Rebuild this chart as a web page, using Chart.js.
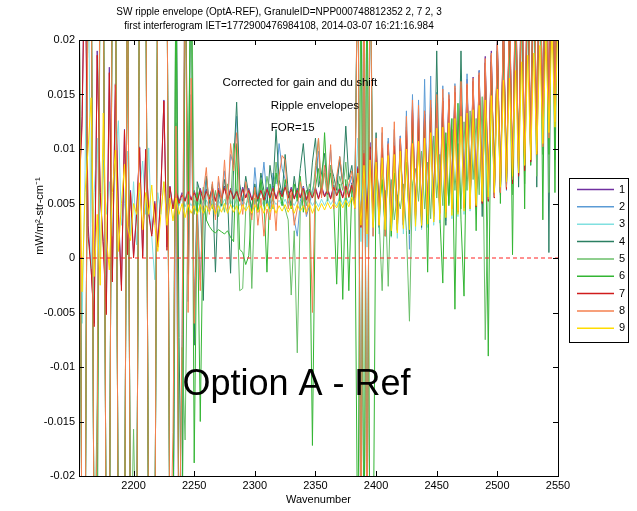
<!DOCTYPE html>
<html><head><meta charset="utf-8">
<script src="https://cdn.jsdelivr.net/npm/chart.js@4.4.1/dist/chart.umd.min.js"></script>
<style>html,body{margin:0;padding:0;background:#fff;}#wrap{width:637px;height:511px;}</style>
</head><body><div id="wrap"><canvas id="c" width="637" height="511"></canvas></div>
<script>
const wavenumber = [
2155,2157.5,2160,2162.5,2165,2167.5,2170,2172.5,2175,2177.5,
2180,2182.5,2185,2187.5,2190,2192.5,2195,2197.5,2200,2202.5,
2205,2207.5,2210,2212.5,2215,2217.5,2220,2222.5,2225,2227.5,
2230,2232.5,2235,2237.5,2240,2242.5,2245,2247.5,2250,2252.5,
2255,2257.5,2260,2262.5,2265,2267.5,2270,2272.5,2275,2277.5,
2280,2282.5,2285,2287.5,2290,2292.5,2295,2297.5,2300,2302.5,
2305,2307.5,2310,2312.5,2315,2317.5,2320,2322.5,2325,2327.5,
2330,2332.5,2335,2337.5,2340,2342.5,2345,2347.5,2350,2352.5,
2355,2357.5,2360,2362.5,2365,2367.5,2370,2372.5,2375,2377.5,
2380,2382.5,2385,2387.5,2390,2392.5,2395,2397.5,2400,2402.5,
2405,2407.5,2410,2412.5,2415,2417.5,2420,2422.5,2425,2427.5,
2430,2432.5,2435,2437.5,2440,2442.5,2445,2447.5,2450,2452.5,
2455,2457.5,2460,2462.5,2465,2467.5,2470,2472.5,2475,2477.5,
2480,2482.5,2485,2487.5,2490,2492.5,2495,2497.5,2500,2502.5,
2505,2507.5,2510,2512.5,2515,2517.5,2520,2522.5,2525,2527.5,
2530,2532.5,2535,2537.5,2540,2542.5,2545,2547.5,2550];

const s1 = [
.006,.013,.03,.003,-.001,-.006,.019,.006,.0015,-.005,
.0175,-.002,.016,.0045,-.0025,.0118,.0005,.0062,.0002,.0042,
.0102,.0002,.01,.0042,.0022,.0052,.0012,.0062,.0145,.001,
.0066,.0046,.0064,.0052,.006,.0053,.0063,.0054,.0062,.0053,
.0064,.0054,.0063,.0055,.0065,.0053,.0064,.0056,.0066,.0054,
.0064,.0055,.0063,.0053,.0065,.0056,.0064,.0054,.0062,.0055,
.0064,.0054,.0065,.0056,.0066,.0055,.0064,.0057,.0067,.0056,
.0065,.0055,.0064,.0056,.0066,.0054,.0063,.0056,.0065,.0055,
.0066,.0057,.0064,.0055,.0067,.0058,.0065,.0056,.0068,.0057,
.0069,.0056,.0084,.0029,.0099,.0036,.0106,.0039,.0101,.0041,
.0104,.0037,.0107,.0034,.0106,.0032,.0112,.0031,.012,.0035,
.0139,.0039,.0131,.0036,.0135,.004,.0141,.0041,.0148,.0042,
.0147,.0043,.0149,.0046,.0156,.0044,.016,.0047,.0164,.0049,
.0166,.0048,.0172,.0051,.0185,.0053,.019,.0056,.02,.0061,
.022,.0064,.0235,.0069,.0255,.0076,.0275,.0081,.0285,.0089,
.0305,.0096,.0315,.0106,.0325,.0121,.0335,.0131,.0345];

const s2 = [
.03,-.03,-.03,.03,.03,-.03,-.0175,.03,.03,-.03,
-.03,.03,.03,-.03,-.03,-.03,.03,-.03,-.03,-.03,
.03,.03,.03,-.03,-.03,-.03,.03,.03,.03,.03,
-.03,-.03,.0124,-.03,-.007,.03,-.004,.015,-.005,.005,
-.002,.005,.0075,.0045,.0065,.0038,.007,.0055,.008,.005,
.0095,.0085,.013,.0062,.0048,.0068,.0058,.004,.0083,.0052,
.006,.0088,.0055,.0045,.0078,.0068,.0105,.0082,.0072,.005,
.0058,.0035,.002,.0052,.0065,.0038,.0048,.0062,.0075,.0098,
.0058,.0082,.0065,.0099,.0055,.0072,.0088,.0068,.006,.0065,
.0075,.005,.03,-.03,.03,-.03,.03,.002,.0105,.0035,
.0115,.0025,.011,.0028,.0118,.003,.0112,.003,.0135,.0008,
.015,.0032,.0145,.0028,.0164,.0035,.0167,.0033,.0152,.0038,
.0158,.004,.0152,.0042,.016,.0041,.0165,.0044,.0169,.0046,
.0163,.0048,.0172,.005,.018,.0052,.0188,.0055,.0198,.0058,
.0218,.0062,.0238,.007,.0258,.0076,.0278,.0082,.0295,.0088,
.0305,.0095,.0315,.01,.0325,.0108,.0335,.012,.0345];

const s3 = [
.01,-.006,.008,.03,-.001,.006,.011,0,.009,.004,
.007,.002,.009,.0126,.003,.005,.0098,.002,.007,.0012,
.006,.0089,.004,.0101,.002,-.002,.006,.004,.007,.005,
.006,.0045,.0058,.0048,.0055,.0047,.0054,.0048,.0053,.0047,
.0054,.0048,.0053,.0047,.0054,.0049,.0053,.0047,.0054,.0048,
.0053,.0047,.0054,.0048,.0053,.0049,.0054,.0047,.0053,.0048,
.0054,.0047,.0053,.0048,.0054,.0049,.0053,.0048,.0054,.0047,
.0053,.0048,.0054,.0047,.0053,.0049,.0054,.0048,.0053,.0047,
.0054,.0048,.0055,.0049,.0054,.0048,.0056,.0049,.0057,.005,
.0058,.0049,.011,.0015,.02,.001,.01,.002,.0095,.0022,
.0097,.002,.0099,.0019,.0101,.0018,.0104,.0022,.0108,.0021,
.012,.0025,.0115,.0026,.0118,.0028,.0122,.003,.0126,.0032,
.0128,.0034,.013,.0036,.0135,.0038,.0138,.004,.0142,.0043,
.0146,.0045,.015,.0049,.0158,.0052,.0163,.0056,.0172,.006,
.0185,.0064,.02,.0069,.0215,.0073,.0225,.0079,.024,.0085,
.025,.009,.026,.0098,.027,.011,.028,.0115,.029];

const s4 = [
.03,-.03,-.03,.03,.03,-.03,-.018,.03,.03,-.03,
-.03,.03,.03,-.03,-.03,-.03,.03,-.03,-.03,-.03,
.03,.03,.03,-.03,-.03,-.03,.03,.03,.03,.03,
-.03,-.03,.03,-.0073,-.03,.03,-.0015,.03,-.008,.007,
.006,-.0039,.0075,.005,.0068,-.0013,.0062,.0048,.0072,.0055,
-.0014,.0085,.0143,.0068,.0052,.0075,.0058,.0045,.0068,.0052,
.0078,.0062,.0048,.0085,.0065,.0118,.0072,.0058,.0095,.0062,
.0048,.0075,.0055,.0082,.0105,.0068,.0052,.0088,.011,.0065,
.0078,.0096,.0058,.0085,.0075,.0062,.0093,.0068,.0121,.0072,
.0085,.0058,.03,-.03,.03,-.03,.03,.003,.0115,.0028,
.0095,.002,.0098,.0032,.0098,.0026,.0104,.0035,.0112,.0022,
.0128,.0035,.0122,.0028,.0126,.0041,.0132,.0038,.019,.0044,
.0138,.003,.0141,.0046,.0146,.0042,.019,.0048,.0152,.0045,
.0155,.005,.016,.0038,.017,.0054,.018,.0058,.019,.006,
.021,.0068,.0225,.0072,.024,.0065,.026,.0085,.027,.009,
.031,.0065,.032,.011,.033,.0005,.034,.009,.035];

const s5 = [
.03,-.03,-.03,.03,.03,-.03,-.0133,.03,.03,-.03,
-.03,.03,.03,-.03,-.03,-.03,.03,-.03,-.0157,-.03,
.03,.03,.03,-.03,-.03,-.03,.03,.03,.03,.03,
-.03,-.03,.03,-.03,-.0082,-.0167,.006,.03,.004,.0065,
.0042,.0065,.0035,.0058,.0045,.0062,.0038,.0055,.0042,.0068,
.0048,.0105,.0058,-.003,-.0028,.0045,.0062,-.0028,.0055,.0042,
.0068,.0048,.0075,.0058,.0045,.0088,.0062,.0052,.0045,.0035,
-.0034,.0025,-.0087,.0045,.0062,.0048,.0068,.0055,.0085,.011,
.0062,.0078,.0052,.0085,.0068,.0058,.0075,.0062,.0088,.0055,
.0068,.0052,.03,-.03,.03,-.03,.03,.0045,.0078,.0035,
-.003,.0062,-.0026,.0072,.0035,.0058,.0045,.0068,.0025,-.0058,
.0068,.0082,.0052,.0098,.0045,.0088,.0036,.0112,.0055,.0095,
.0048,.0105,.005,.0118,.0062,.0105,.0045,.0125,.0062,.0135,
.0072,.0128,.0058,.0148,-.0075,.0068,.0158,.0062,.0165,.0075,
.0182,.0085,.0192,.0058,.021,.0098,.022,.0068,.0235,.0105,
.025,.0075,.0265,.0095,.028,.006,.029,.0125,.03];

const s6 = [
.03,-.03,-.03,.03,.03,-.03,-.03,.03,.03,-.03,
-.03,.03,.03,-.03,-.03,-.03,.03,-.03,-.03,-.03,
.03,.03,.03,-.03,-.03,-.03,.03,.03,.03,.03,
-.03,-.03,.03,-.03,-.03,.03,.004,.03,-.0188,.006,
-.015,.0048,.0035,.0029,.0025,.0023,.0026,.0024,.0022,.0025,
.0019,.0015,.0105,.0008,.0005,-.0006,.0002,.0048,.0065,.0042,
.0072,.0055,-.0013,.0068,.0052,.0078,.0062,.0048,.0072,.0058,
.0045,.0068,.0052,.0075,.0042,.0062,.0055,-.0172,.0065,.0082,
.0058,.0115,.0062,.0078,.0052,-.0024,.0068,-.0038,.0072,-.003,
.0065,.0048,-.03,.03,-.03,.03,-.03,-.03,.0095,.004,
.0072,.0025,.0092,.002,.0078,.004,.0098,.0045,.0088,.0035,
.0122,.0042,.0105,.0035,.0125,-.0013,.0135,.0045,.0112,.004,
-.0023,.0115,.0048,.0128,-.0047,.0142,.0035,-.0035,.0135,.007,
.0148,.0025,.0158,.0055,.0145,-.009,.0175,.0075,.019,.005,
.021,.0065,.023,.0003,.024,.009,.026,.0045,.028,.0085,
.029,.0105,.031,.0035,.03,.0095,.033,.006,.032];

const s7 = [
.006,.012,.03,.002,-.001,-.0063,.0186,.006,.001,-.0052,
.017,-.0022,.0159,.004,-.003,.0117,.0003,.006,0,.004,
.0101,0,.0099,.004,.002,.005,.001,.006,.0144,.0007,
.0065,.0045,.0062,.005,.0058,.0052,.0061,.0053,.006,.0052,
.0062,.0053,.0061,.0054,.0063,.0052,.0062,.0055,.0064,.0053,
.0062,.0054,.0061,.0052,.0063,.0055,.0062,.0053,.006,.0054,
.0062,.0053,.0063,.0055,.0064,.0054,.0062,.0056,.0065,.0055,
.0063,.0054,.0062,.0055,.0064,.0053,.0061,.0055,.0063,.0054,
.0064,.0056,.0062,.0054,.0065,.0057,.0063,.0055,.0066,.0056,
.0067,.0055,.0082,.0028,.0096,.0035,.0102,.0038,.0098,.004,
.0101,.0036,.0104,.0033,.0103,.0031,.0109,.003,.0117,.0034,
.0136,.0038,.0128,.0035,.0132,.0039,.0138,.004,.0142,.0041,
.0144,.0042,.0146,.0045,.0152,.0043,.0156,.0046,.0159,.0048,
.0162,.0047,.0168,.005,.0179,.0052,.0186,.0055,.0196,.006,
.0215,.0063,.023,.0068,.025,.0075,.027,.008,.028,.0088,
.03,.0095,.031,.0105,.032,.012,.033,.013,.034];

const s8 = [
.03,-.03,-.03,.03,.03,-.03,-.017,.03,.03,-.03,
-.03,.03,.03,-.03,-.03,-.03,.03,-.03,-.03,-.03,
.03,.03,.03,-.03,-.03,-.03,.03,.03,.03,.03,
-.03,-.016,.0121,-.03,-.0075,.03,-.005,.0165,-.006,.004,
-.003,.006,.0083,.004,.007,.0035,.0075,.005,.009,.0045,
.0105,.008,.0115,.006,.004,.007,.005,.0035,.0065,.003,
.0055,.002,.0045,.0035,.006,.0025,.0075,.0094,.009,.0045,
.006,.003,.0045,.007,.0055,.004,.006,-.005,.008,.011,
.0055,.0085,.006,.0104,.0045,.0075,.0093,.007,.0055,.0068,
.008,.0045,.03,-.03,.03,-.03,.03,.002,.011,.003,
.012,.002,.0105,.003,.0125,.0025,.011,.0035,.013,.003,
.0145,.0035,.014,.003,.0135,.004,.0145,.0035,.015,.004,
.0155,.0042,.015,.0045,.0158,.0043,.0162,.0046,.016,.0048,
.0165,.005,.017,.0052,.0183,.0054,.0188,.0056,.02,.006,
.022,.0065,.024,.0072,.026,.0078,.028,.0085,.03,.009,
.031,.0098,.032,.0102,.033,.011,.034,.0125,.035];

const s9 = [
.0144,-.0031,.006,.01,.0147,-.0017,.004,-.0025,.0133,.002,
-.0011,.006,.0099,.0006,.005,.0086,.003,.0016,.005,.004,
.0069,.0026,.006,.004,.0067,.003,.0006,.004,.007,.003,
.0055,.0034,.0055,.004,.005,.0037,.0049,.0041,.0048,.004,
.0049,.0041,.0048,.0042,.0049,.004,.0048,.0042,.005,.0041,
.0049,.0042,.0048,.004,.0049,.0043,.0048,.0041,.0049,.0042,
.0048,.0041,.005,.0042,.0049,.0041,.0048,.0043,.0049,.0042,
.0048,.0041,.0049,.0043,.0048,.0042,.005,.0041,.0049,.0043,
.005,.0044,.0051,.0045,.005,.0046,.0052,.0046,.0053,.0047,
.0056,.0046,.0078,.003,.0085,.0022,.009,.0028,.0088,.003,
.0092,.0026,.0094,.0025,.0095,.0023,.0098,.0027,.01,.0026,
.0105,.0029,.0107,.003,.011,.0031,.0115,.0033,.0119,.0035,
.012,.0037,.0124,.0039,.0128,.004,.013,.0043,.0133,.0045,
.0136,.0048,.014,.0052,.0145,.0056,.0149,.006,.0155,.0065,
.0163,.007,.0165,.0075,.0172,.0078,.018,.0085,.0186,.009,
.0188,.0095,.0195,.0105,.02,.0115,.021,.012,.022];

const seriesNames = ['1','2','3','4','5','6','7','8','9'];
const zeroLineX = [2155, 2550];
const zeroLineY = [0, 0];
const xTicks = [2200,2250,2300,2350,2400,2450,2500,2550];
const yTicks = [-0.02,-0.015,-0.01,-0.005,0,0.005,0.01,0.015,0.02];
const titleLines = ['SW ripple envelope (OptA-REF), GranuleID=NPP000748812352 2, 7 2, 3',
                    'first interferogram IET=1772900476984108, 2014-03-07 16:21:16.984'];
const xLabel = 'Wavenumber';
const yLabel = 'mW/m\u00B2-str-cm\u207B\u00B9';
const noteTexts = ['Corrected for gain and du shift','Ripple envelopes','FOR=15'];
const bigNote = 'Option A - Ref';

const FONT = "'Liberation Sans', Arial, Helvetica, sans-serif";
Chart.defaults.font.family = FONT;
Chart.defaults.color = '#000';

const colors = ['#7030a0','#5b9bd5','#80e0e0','#2b7f62','#6abf69','#33b533','#d01c1c','#f5804f','#ffdc00'];
const allSeries = [s1,s2,s3,s4,s5,s6,s7,s8,s9];

const datasets = allSeries.map((s,k)=>({
  label: seriesNames[k],
  data: s.map((v,i)=>({x: wavenumber[i], y: v})),
  borderColor: colors[k], backgroundColor: colors[k],
  borderWidth: 1, pointRadius: 0, tension: 0, fill: false,
  order: 9 - k
}));
datasets.push({
  label: 'zero',
  data: zeroLineX.map((x,i)=>({x, y: zeroLineY[i]})),
  borderColor: '#ff2020', borderWidth: 1, borderDash: [4,3], pointRadius: 0, order: 0
});

const decor = {
  id: 'decor',
  afterDatasetsDraw(chart) {
    const {ctx, chartArea: a, scales: {x, y}} = chart;
    ctx.save();
    ctx.strokeStyle = '#000'; ctx.lineWidth = 1;
    ctx.strokeRect(Math.round(a.left)+0.5, Math.round(a.top)+0.5, Math.round(a.right-a.left), Math.round(a.bottom-a.top));
    ctx.beginPath();
    xTicks.forEach(v=>{
      const px = Math.round(x.getPixelForValue(v))+0.5;
      ctx.moveTo(px, a.bottom); ctx.lineTo(px, a.bottom-5);
      ctx.moveTo(px, a.top); ctx.lineTo(px, a.top+5);
    });
    yTicks.forEach(v=>{
      const py = Math.round(y.getPixelForValue(v))+0.5;
      ctx.moveTo(a.left, py); ctx.lineTo(a.left+5, py);
      ctx.moveTo(a.right, py); ctx.lineTo(a.right-5, py);
    });
    ctx.stroke();
    ctx.fillStyle = '#000';
    ctx.textBaseline = 'middle'; ctx.textAlign = 'left';
    ctx.font = '11.5px ' + FONT;
    ctx.fillText(noteTexts[0], x.getPixelForValue(2273.4), y.getPixelForValue(0.0161));
    ctx.fillText(noteTexts[1], x.getPixelForValue(2313.2), y.getPixelForValue(0.0140));
    ctx.fillText(noteTexts[2], x.getPixelForValue(2313.2), y.getPixelForValue(0.0119));
    ctx.font = '36px ' + FONT;
    ctx.fillText(bigNote, x.getPixelForValue(2240.3), y.getPixelForValue(-0.0117));
    ctx.save();
    ctx.translate(40, 216);
    ctx.rotate(-Math.PI/2);
    ctx.textAlign = 'center';
    ctx.font = '11px ' + FONT;
    ctx.fillText(yLabel, 0, 0);
    ctx.restore();
    const lx = 569.5, ly = 178.5, lw = 59, lh = 164;
    ctx.fillStyle = '#fff';
    ctx.fillRect(lx, ly, lw, lh);
    ctx.strokeStyle = '#000'; ctx.lineWidth = 1;
    ctx.strokeRect(lx, ly, lw, lh);
    ctx.font = '11px ' + FONT;
    chart.data.datasets.slice(0,9).forEach((ds,k)=>{
      const yy = 189.5 + k*17.35;
      ctx.strokeStyle = ds.borderColor; ctx.lineWidth = 1.5;
      ctx.beginPath(); ctx.moveTo(577, yy); ctx.lineTo(614, yy); ctx.stroke();
      ctx.fillStyle = '#000';
      ctx.fillText(ds.label, 619, yy);
    });
    ctx.restore();
  }
};

new Chart(document.getElementById('c'), {
  type: 'line',
  data: { datasets },
  options: {
    responsive: false, animation: false, devicePixelRatio: 1,
    layout: { padding: { left: 0, right: 79, top: 0, bottom: 0 } },
    plugins: {
      legend: { display: false },
      tooltip: { enabled: false },
      title: { display: true, text: titleLines, color: '#000',
               font: { size: 10, weight: 'normal', lineHeight: 1.4 },
               padding: { top: 5, bottom: 7 } }
    },
    scales: {
      x: {
        type: 'linear', min: 2155, max: 2550,
        afterBuildTicks: s => { s.ticks = xTicks.map(v=>({value: v})); },
        afterFit: s => { s.height = 35; },
        grid: { display: false, drawTicks: false },
        border: { display: false },
        ticks: { font: { size: 11 }, color: '#000', padding: 3, maxRotation: 0, autoSkip: false,
                 callback: v => String(v) },
        title: { display: true, text: xLabel, font: { size: 11 }, color: '#000', padding: { top: 0, bottom: 4 } }
      },
      y: {
        type: 'linear', min: -0.02, max: 0.02,
        afterBuildTicks: s => { s.ticks = yTicks.map(v=>({value: v})); },
        afterFit: s => { s.width = 79; },
        grid: { display: false, drawTicks: false },
        border: { display: false },
        ticks: { font: { size: 11 }, color: '#000', padding: 4, autoSkip: false,
                 callback: v => String(v) }
      }
    }
  },
  plugins: [decor]
});
</script></body></html>
